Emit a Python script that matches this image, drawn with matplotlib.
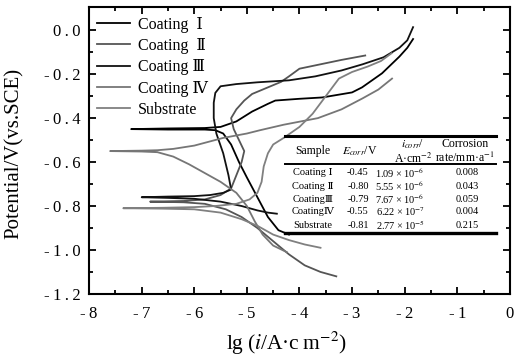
"""Tafel polarization curves of coatings and substrate."""

import matplotlib
matplotlib.use('Agg')
from matplotlib import pyplot as plt

plt.rcParams['font.family'] = ['Liberation Serif', 'DejaVu Serif']
plt.rcParams['mathtext.fontset'] = 'stix'

# polarization curves: lg(i) and potential, cathodic end -> Ecorr -> anodic end
c1_lgi = [-4.2, -4.4, -4.6, -4.8, -5.0, -5.15, -5.3, -5.45, -5.6, -5.8, -6.5,
          -7.2, -6.5, -5.8, -5.5, -5.2, -4.9, -4.6, -4.46, -4.0, -3.57, -3.0,
          -2.81, -2.43, -2.1, -1.95, -1.84]
c1_e = [-0.93, -0.91, -0.85, -0.76, -0.67, -0.60, -0.52, -0.47, -0.455, -0.452,
        -0.452, -0.45, -0.447, -0.445, -0.44, -0.415, -0.37, -0.335, -0.32,
        -0.312, -0.306, -0.283, -0.26, -0.196, -0.12, -0.08, -0.04]

c2_lgi = [-3.3, -3.6, -3.9, -4.2, -4.5, -4.8, -5.1, -5.4, -5.8, -6.2, -6.84,
          -6.2, -5.8, -5.5, -5.3, -5.2, -5.1, -5.05, -5.15, -5.25, -5.3, -5.2,
          -5.05, -4.9, -4.6, -4.35, -4.2, -4.0, -3.6, -3.2, -2.75]
c2_e = [-1.12, -1.10, -1.07, -1.02, -0.96, -0.90, -0.85, -0.815, -0.79, -0.783,
        -0.78, -0.777, -0.77, -0.75, -0.72, -0.66, -0.60, -0.55, -0.50, -0.45,
        -0.40, -0.36, -0.32, -0.29, -0.26, -0.235, -0.21, -0.175, -0.155,
        -0.135, -0.115]

c3_lgi = [-4.43, -4.6, -4.8, -5.1, -5.5, -6.0, -6.5, -7.0, -6.5, -6.0, -5.7,
          -5.45, -5.3, -5.35, -5.45, -5.58, -5.63, -5.63, -5.6, -5.5, -5.2,
          -4.8, -4.2, -3.7, -3.2, -2.8, -2.4, -2.1, -1.95, -1.84]
c3_e = [-0.835, -0.83, -0.82, -0.80, -0.78, -0.767, -0.763, -0.76, -0.757,
        -0.755, -0.75, -0.74, -0.725, -0.66, -0.56, -0.47, -0.40, -0.33, -0.285,
        -0.255, -0.245, -0.237, -0.228, -0.21, -0.183, -0.155, -0.123, -0.08,
        -0.046, 0.014]

c4_lgi = [-4.24, -4.5, -4.7, -4.85, -5.0, -5.2, -5.5, -5.8, -6.1, -6.4, -6.7,
          -7.0, -7.6, -7.0, -6.7, -6.4, -6.0, -5.45, -5.0, -4.75, -4.3, -3.65,
          -3.2, -2.8, -2.5, -2.24]
c4_e = [-1.01, -0.98, -0.93, -0.87, -0.80, -0.74, -0.69, -0.65, -0.61, -0.575,
        -0.555, -0.552, -0.55, -0.548, -0.546, -0.54, -0.525, -0.49, -0.47,
        -0.455, -0.43, -0.40, -0.36, -0.31, -0.27, -0.22]

sub_lgi = [-3.6, -3.9, -4.2, -4.5, -4.8, -5.1, -5.5, -6.0, -6.6, -7.35, -6.6,
           -6.0, -5.6, -5.2, -4.95, -4.8, -4.72, -4.68, -4.6, -4.5, -4.3, -4.0,
           -3.75, -3.5, -3.25, -3.0, -2.7, -2.45, -2.25]
sub_e = [-0.99, -0.975, -0.955, -0.93, -0.89, -0.86, -0.83, -0.815, -0.812,
         -0.81, -0.808, -0.805, -0.80, -0.79, -0.77, -0.74, -0.69, -0.62, -0.56,
         -0.52, -0.49, -0.44, -0.38, -0.30, -0.22, -0.19, -0.165, -0.14, -0.105]

labels = ['Coating  Ⅰ', 'Coating  Ⅱ', 'Coating Ⅲ', 'Coating Ⅳ', 'Substrate']
colors = ['#000000', '#555555', '#111111', '#767676', '#808080']

x_ticks = [-8, -7, -6, -5, -4, -3, -2, -1, 0]
y_ticks = [-1.2, -1.0, -0.8, -0.6, -0.4, -0.2, 0.0]

# table
tab_header = ['Sample', r'$E_{corr}$/V', r'$i_{corr}$/' + '\nA·cm$^{-2}$',
              'Corrosion\nrate/mm·a$^{-1}$']
tab_sample = ['Coating Ⅰ', 'Coating Ⅱ', 'CoatingⅢ', 'CoatingⅣ', 'Substrate']
tab_ecorr = ['-0.45', '-0.80', '-0.79', '-0.55', '-0.81']
tab_icorr = ['1.09', '5.55', '7.67', '6.22', '2.77']
tab_iexp = ['-6', '-6', '-6', '-7', '-5']
tab_rate = ['0.008', '0.043', '0.059', '0.004', '0.215']


def spaced(text):
    """Put thin spaces between characters (wide tracking as in the source)."""
    return '\u2009'.join(text)


fig = plt.figure(figsize=(5.15, 3.58), dpi=100)
ax = fig.add_axes([0.173, 0.179, 0.817, 0.801])

curves = [(c1_lgi, c1_e), (c2_lgi, c2_e), (c3_lgi, c3_e), (c4_lgi, c4_e),
          (sub_lgi, sub_e)]
for (x, y), lab, col in zip(curves, labels, colors):
    ax.plot(x, y, color=col, lw=1.3, label=lab)

ax.set_xlim(-8, 0)
ax.set_ylim(-1.2, 0.105)
ax.set_xticks(x_ticks)
ax.set_xticks([t + 0.5 for t in x_ticks[:-1]], minor=True)
ax.set_yticks(y_ticks)
ax.set_yticks([t + 0.1 for t in y_ticks[:-1]], minor=True)
ax.set_xticklabels([spaced(f'{t:d}') for t in x_ticks])
ax.set_yticklabels([spaced(f'{t:.1f}'.replace('-0.0', '0.0')) for t in y_ticks])
ax.tick_params(which='both', direction='in', top=True, right=True,
               labelsize=12, width=1.3)
ax.tick_params(axis='x', pad=9)
ax.tick_params(axis='y', pad=6)
ax.tick_params(which='major', length=5)
ax.tick_params(which='minor', length=3)
for sp in ax.spines.values():
    sp.set_linewidth(1.5)

ax.set_xlabel('lg\u2009(' + r'$i$' + '/A·c\u2009m' + r'$^{-2}$' + ')',
              fontsize=15.5)
ax.xaxis.set_label_coords(0.47, -0.125)
ax.set_ylabel('Potential/V(vs.SCE)', fontsize=15)
ax.yaxis.set_label_coords(-0.155, 0.49)

ax.legend(loc='upper left', bbox_to_anchor=(-0.005, 1.0), frameon=False,
          fontsize=11.5, handlelength=2.1, handletextpad=0.5,
          labelspacing=0.33, borderaxespad=0.2)

# table lines
tr = ax.transAxes
ax.plot([0.466, 0.967], [0.551, 0.551], color='k', lw=2.2, transform=tr)
ax.plot([0.466, 0.967], [0.453, 0.453], color='k', lw=1.4, transform=tr)
ax.plot([0.466, 0.967], [0.213, 0.213], color='k', lw=2.4, transform=tr)

col_x = [0.532, 0.644, 0.770, 0.893]
for cx, txt in zip(col_x, tab_header):
    ax.text(cx, 0.497, txt, transform=tr, ha='center', va='center',
            fontsize=8.5, linespacing=1.05)

row_y = [0.422, 0.376, 0.331, 0.286, 0.239]
val_x = [0.532, 0.639, 0.739, 0.898]
for i, yy in enumerate(row_y):
    icorr = tab_icorr[i] + '\u2009×\u200910' + '$^{' + tab_iexp[i] + '}$'
    row = [tab_sample[i], tab_ecorr[i], icorr, tab_rate[i]]
    for cx, txt in zip(val_x, row):
        ax.text(cx, yy, txt, transform=tr, ha='center', va='center',
                fontsize=7.5)

fig.savefig('out.png', dpi=100)
